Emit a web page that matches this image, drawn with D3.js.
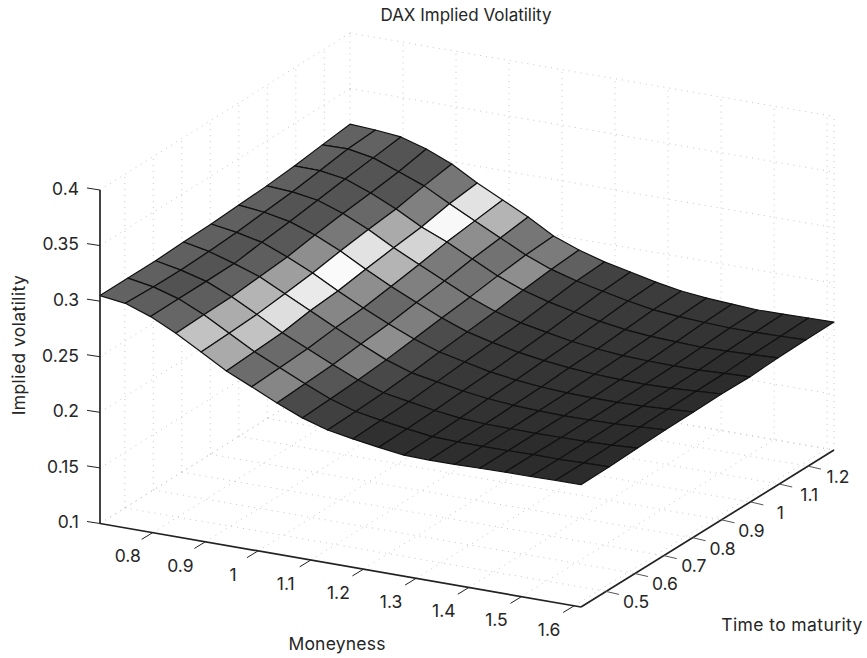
<!DOCTYPE html>
<html>
<head>
<meta charset="utf-8">
<script src="https://cdn.jsdelivr.net/npm/d3@7/dist/d3.min.js"></script>
<style>
html,body{margin:0;padding:0;background:#fff;}
svg{display:block;}
text{font-family:Inter,"Open Sans",sans-serif;fill:#262626;}
</style>
</head>
<body>
<div id="chart"></div>
<script>
const title = "DAX Implied Volatility";
const xLabel = "Moneyness";
const yLabel = "Time to maturity";
const zLabel = "Implied volatility";

const moneynessTicks = [0.8,0.9,1,1.1,1.2,1.3,1.4,1.5,1.6];
const maturityTicks = [0.5,0.6,0.7,0.8,0.9,1,1.1,1.2];
const volTicks = [0.1,0.15,0.2,0.25,0.3,0.35,0.4];

const moneyness = [0.700,0.748,0.796,0.844,0.892,0.940,0.988,1.036,1.084,1.132,1.180,1.229,1.277,1.325,1.373,1.421,1.469,1.517,1.565,1.613];
const maturity = [0.413,0.511,0.608,0.706,0.803,0.900,0.998,1.095,1.193,1.290];

// implied volatility: one row per maturity, one value per moneyness
const vol0 = [.305,.302,.294,.283,.270,.257,.2466,.236,.2266,.2196,.2156,.212,.209,.2085,.2085,.209,.2095,.2095,.21,.21];
const vol1 = [.305,.301,.2942,.2838,.2712,.2585,.248,.2375,.2278,.2205,.2165,.2128,.2098,.209,.209,.209,.2095,.2092,.21,.2103];
const vol2 = [.305,.3005,.2943,.2845,.2725,.26,.2495,.239,.2293,.2218,.2177,.2138,.2108,.2095,.2092,.209,.2092,.2095,.2103,.2115];
const vol3 = [.306,.3015,.2945,.2866,.2752,.2639,.2525,.242,.2316,.2239,.2197,.2155,.2125,.2105,.2095,.209,.2092,.2097,.2108,.2122];
const vol4 = [.3066,.303,.298,.2888,.2784,.2661,.2547,.2443,.2347,.227,.222,.2169,.2137,.2114,.21,.2095,.2095,.21,.2113,.2126];
const vol5 = [.308,.3055,.301,.293,.2825,.27,.2585,.248,.238,.2295,.2238,.219,.2155,.213,.2112,.2103,.21,.2105,.2118,.2132];
const vol6 = [.3095,.308,.3045,.2965,.286,.2735,.2625,.2515,.241,.232,.2258,.2212,.217,.2142,.2122,.2113,.2108,.211,.212,.2128];
const vol7 = [.3118,.3115,.308,.2993,.2889,.2767,.267,.2557,.2445,.2355,.229,.224,.2195,.216,.2138,.2128,.212,.2125,.2133,.2142];
const vol8 = [.315,.3153,.3112,.3026,.2939,.2817,.2703,.2589,.2476,.2385,.232,.2268,.222,.218,.2158,.2145,.2135,.2136,.214,.2147];
const vol9 = [.318,.3167,.3144,.3075,.298,.2849,.2735,.2622,.249,.2403,.2336,.2285,.2234,.2193,.2169,.2155,.2141,.2144,.2148,.2151];
const volRows = [vol0,vol1,vol2,vol3,vol4,vol5,vol6,vol7,vol8,vol9];

// grey level of each facet
const grey0 = [98,94,102,194,170,108,134,74,64,56,48,47,46,46,45,45,44,44,44];
const grey1 = [96,82,94,172,194,106,128,86,60,55,50,48,47,46,45,44,43,43,43];
const grey2 = [96,84,98,180,222,114,104,126,72,59,54,52,50,48,47,46,45,44,43];
const grey3 = [96,84,94,158,234,134,110,142,76,61,56,54,52,50,48,47,46,45,44];
const grey4 = [96,84,88,142,250,142,104,126,76,63,57,55,53,51,49,48,46,45,44];
const grey5 = [96,84,84,120,226,180,128,120,96,68,58,56,54,52,50,48,47,46,44];
const grey6 = [96,84,84,104,170,212,122,114,134,70,60,58,56,54,52,50,48,46,45];
const grey7 = [96,84,84,84,128,248,142,114,142,70,62,60,58,56,54,52,50,48,46];
const grey8 = [98,98,84,84,118,226,180,118,123,96,66,62,60,58,55,54,52,50,48];
const greyRows = [grey0,grey1,grey2,grey3,grey4,grey5,grey6,grey7,grey8];

const W = 867, H = 658;
const svg = d3.select("#chart").append("svg").attr("width",W).attr("height",H).attr("viewBox",[0,0,W,H]);

// projection: floor corners and a height scale
const cA=[100,523.5], cB=[581,607], cC=[834,450], cD=[350,366.5];
const mExtent=[moneyness[0],moneyness[moneyness.length-1]];
const tExtent=[maturity[0],maturity[maturity.length-1]];
const u=d3.scaleLinear().domain(mExtent).range([0,1]);
const v=d3.scaleLinear().domain(tExtent).range([0,1]);
const h=d3.scaleLinear().domain([0.1,0.4]).range([0,333.5]);
function project(m,t,z){
  const a=u(m), b=v(t);
  const x=(1-a)*(1-b)*cA[0]+a*(1-b)*cB[0]+a*b*cC[0]+(1-a)*b*cD[0];
  const y=(1-a)*(1-b)*cA[1]+a*(1-b)*cB[1]+a*b*cC[1]+(1-a)*b*cD[1];
  return [x,y-h(z)];
}
const line=d3.line();
const zMin=0.1, zMax=0.4;
const [m0,m1]=mExtent, [t0,t1]=tExtent;

// dotted grid
const grid=svg.append("g").attr("fill","none").attr("stroke","#c6c6c6").attr("stroke-width",1).attr("stroke-dasharray","1 5");
function seg(p,q){grid.append("path").attr("d",line([p,q]));}
moneynessTicks.forEach(m=>{
  seg(project(m,t0,zMin),project(m,t1,zMin));
  seg(project(m,t1,zMin),project(m,t1,zMax));
});
maturityTicks.forEach(t=>{
  seg(project(m0,t,zMin),project(m1,t,zMin));
  seg(project(m0,t,zMin),project(m0,t,zMax));
});
volTicks.forEach(z=>{
  seg(project(m0,t0,z),project(m0,t1,z));
  seg(project(m0,t1,z),project(m1,t1,z));
});
seg(project(m0,t1,zMin),project(m0,t1,zMax));
seg(project(m1,t1,zMin),project(m1,t1,zMax));
seg(project(m0,t1,zMin),project(m1,t1,zMin));
seg(project(m0,t1,zMin),project(m0,t0,zMin));

// surface
const facets=[];
for(let j=maturity.length-2;j>=0;j--){
  for(let i=0;i<moneyness.length-1;i++){
    facets.push({g:greyRows[j][i],pts:[
      project(moneyness[i],maturity[j],volRows[j][i]),
      project(moneyness[i+1],maturity[j],volRows[j][i+1]),
      project(moneyness[i+1],maturity[j+1],volRows[j+1][i+1]),
      project(moneyness[i],maturity[j+1],volRows[j+1][i])
    ]});
  }
}
svg.append("g").selectAll("path").data(facets).join("path")
  .attr("d",d=>line(d.pts)+"Z")
  .attr("fill",d=>d3.rgb(d.g,d.g,d.g))
  .attr("stroke","#111").attr("stroke-width",1.2).attr("stroke-linejoin","round");

// axes
const axis=svg.append("g").attr("stroke","#222").attr("fill","none");
axis.append("path").attr("stroke-width",1.7).attr("d",line([project(m0,t0,zMin),project(m0,t0,zMax)]));
axis.append("path").attr("stroke-width",1.7).attr("d",line([project(m0,t0,zMin),project(m1,t0,zMin)]));
axis.append("path").attr("stroke-width",1.7).attr("d",line([project(m1,t0,zMin),project(m1,t1,zMin)]));

const labels=svg.append("g").attr("text-anchor","middle").attr("font-size",17.5);
moneynessTicks.forEach(m=>{
  const p=project(m,t0,zMin);
  axis.append("path").attr("stroke-width",1).attr("d",line([p,[p[0]-11,p[1]+6.7]]));
  labels.append("text").attr("x",p[0]-25).attr("y",p[1]+23.5).attr("dy","0.36em").text(d3.format("~g")(m));
});
maturityTicks.forEach(t=>{
  const p=project(m1,t,zMin);
  axis.append("path").attr("stroke-width",1).attr("stroke","#555").attr("d",line([p,[p[0]+13,p[1]+3]]));
  labels.append("text").attr("x",p[0]+30).attr("y",p[1]+10.5).attr("dy","0.36em").text(d3.format("~g")(t));
});
volTicks.forEach(z=>{
  const p=project(m0,t0,z);
  axis.append("path").attr("stroke-width",1).attr("d",line([p,[p[0]-13,p[1]-2]]));
  labels.append("text").attr("x",79).attr("y",p[1]-1.5).attr("dy","0.36em").attr("text-anchor","end").text(d3.format("~g")(z));
});

const lab=(s,fs,ls)=>s.attr("text-anchor","middle").attr("font-size",fs).attr("letter-spacing",ls);
lab(svg.append("text").attr("x",466).attr("y",21),17,0).text(title);
lab(svg.append("text").attr("x",337).attr("y",650),17.5,0.2).text(xLabel);
lab(svg.append("text").attr("x",792).attr("y",631),17.5,0.4).text(yLabel);
lab(svg.append("text").attr("transform","translate(25,345) rotate(-90)"),17.5,0.4).text(zLabel);
</script>
</body>
</html>
